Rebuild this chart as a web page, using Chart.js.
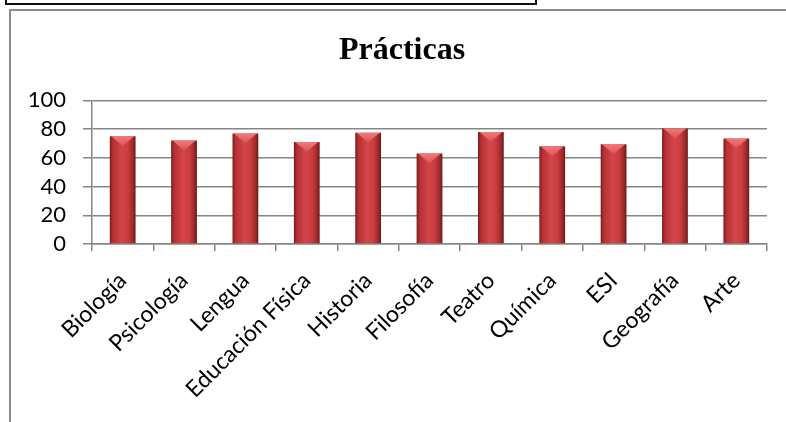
<!DOCTYPE html>
<html>
<head>
<meta charset="utf-8">
<script src="https://cdn.jsdelivr.net/npm/chart.js@4.4.1/dist/chart.umd.min.js"></script>
<style>
  html, body { margin: 0; padding: 0; background: #fff; }
  body { width: 786px; height: 422px; position: relative; overflow: hidden; }
  #topBox { position: absolute; left: 5px; top: -10px; width: 528px; height: 11px; border: 2px solid #111; }
  #frame { position: absolute; left: 9px; top: 9px; width: 800px; height: 430px; border: 2px solid #8c8c8c; box-sizing: border-box; }
  #wrap { position: absolute; left: 0; top: 0; width: 786px; height: 422px; }
</style>
</head>
<body>
<div id="topBox"></div>
<div id="frame"></div>
<div id="wrap"><canvas id="c" width="786" height="422"></canvas></div>
<script>
// Materias y porcentaje de prácticas
const materias = ['Biología', 'Psicología', 'Lengua', 'Educación Física', 'Historia', 'Filosofía', 'Teatro', 'Química', 'ESI', 'Geografía', 'Arte'];
const practicas = [75, 72, 77, 71, 77.5, 63, 78, 68, 69.5, 80.5, 73.5];
const yTicks = [0, 20, 40, 60, 80, 100];

const BAR_PCT = 0.42;
const Y_FONT = { family: 'Lato, "Open Sans", sans-serif', size: 22 };
const X_FONT = { family: 'Lato, "Open Sans", sans-serif', size: 23 };

// Relleno cilíndrico de cada barra (oscuro en los bordes, claro al centro)
function barFill(c) {
  const chart = c.chart;
  const xs = chart.scales.x;
  if (!xs || !xs.width) return '#c0393b';
  const cx = xs.getPixelForValue(c.dataIndex);
  const w = xs.width / materias.length * BAR_PCT;
  const g = chart.ctx.createLinearGradient(cx - w / 2, 0, cx + w / 2, 0);
  g.addColorStop(0, '#7a1c1c');
  g.addColorStop(0.12, '#b43134');
  g.addColorStop(0.45, '#d3454a');
  g.addColorStop(0.7, '#ca3d40');
  g.addColorStop(0.9, '#9c292a');
  g.addColorStop(1, '#6a1818');
  return g;
}

// Bisel superior claro en cada barra
const bevel = {
  id: 'bevel',
  afterDatasetsDraw(chart) {
    const ctx = chart.ctx;
    chart.getDatasetMeta(0).data.forEach(bar => {
      const { x, y, width } = bar.getProps(['x', 'y', 'width'], true);
      const l = x - width / 2, r = x + width / 2, d = Math.min(10, width * 0.38);
      ctx.save();
      const g = ctx.createLinearGradient(0, y, 0, y + d);
      g.addColorStop(0, '#f07a7c');
      g.addColorStop(1, '#dd5356');
      ctx.fillStyle = g;
      ctx.beginPath();
      ctx.moveTo(l + 1.5, y);
      ctx.lineTo(r - 1.5, y);
      ctx.lineTo(x, y + d);
      ctx.closePath();
      ctx.fill();
      ctx.restore();
    });
  }
};

// El título se centra sobre el marco del gráfico, no sobre todo el lienzo
const titleSpan = {
  id: 'titleSpan',
  afterLayout(chart) {
    const t = chart.titleBlock;
    if (t) { t.left = 37; t.right = chart.chartArea.right; }
  }
};

new Chart(document.getElementById('c'), {
  type: 'bar',
  data: {
    labels: materias,
    datasets: [{
      data: practicas,
      backgroundColor: barFill,
      borderWidth: 0,
      barPercentage: BAR_PCT,
      categoryPercentage: 1
    }]
  },
  options: {
    responsive: false,
    animation: false,
    events: [],
    layout: { padding: { left: 0, right: 19, top: 0, bottom: 0 } },
    plugins: {
      legend: { display: false },
      tooltip: { enabled: false },
      title: {
        display: true,
        text: 'Prácticas',
        color: '#000',
        font: { family: '"Liberation Serif", "Times New Roman", serif', size: 32, weight: 'bold' },
        padding: { top: 32, bottom: 30 }
      }
    },
    scales: {
      y: {
        min: 0,
        max: 100,
        afterBuildTicks(s) { s.ticks = yTicks.map(v => ({ value: v })); },
        afterFit(s) { s.width = 92; },
        ticks: {
          color: '#000',
          padding: 17,
          autoSkip: false,
          font: Y_FONT
        },
        grid: { color: '#868686', lineWidth: 1.5, tickLength: 9, drawTicks: true },
        border: { color: '#868686', width: 1.5 }
      },
      x: {
        afterFit(s) { s.height = 178; },
        ticks: {
          color: '#000',
          minRotation: 45,
          maxRotation: 45,
          autoSkip: false,
          padding: 16,
          font: X_FONT
        },
        grid: { color: '#868686', lineWidth: 1.5, drawOnChartArea: false, tickLength: 7, offset: true },
        border: { color: '#868686', width: 1.5 }
      }
    }
  },
  plugins: [bevel, titleSpan]
});
</script>
</body>
</html>
